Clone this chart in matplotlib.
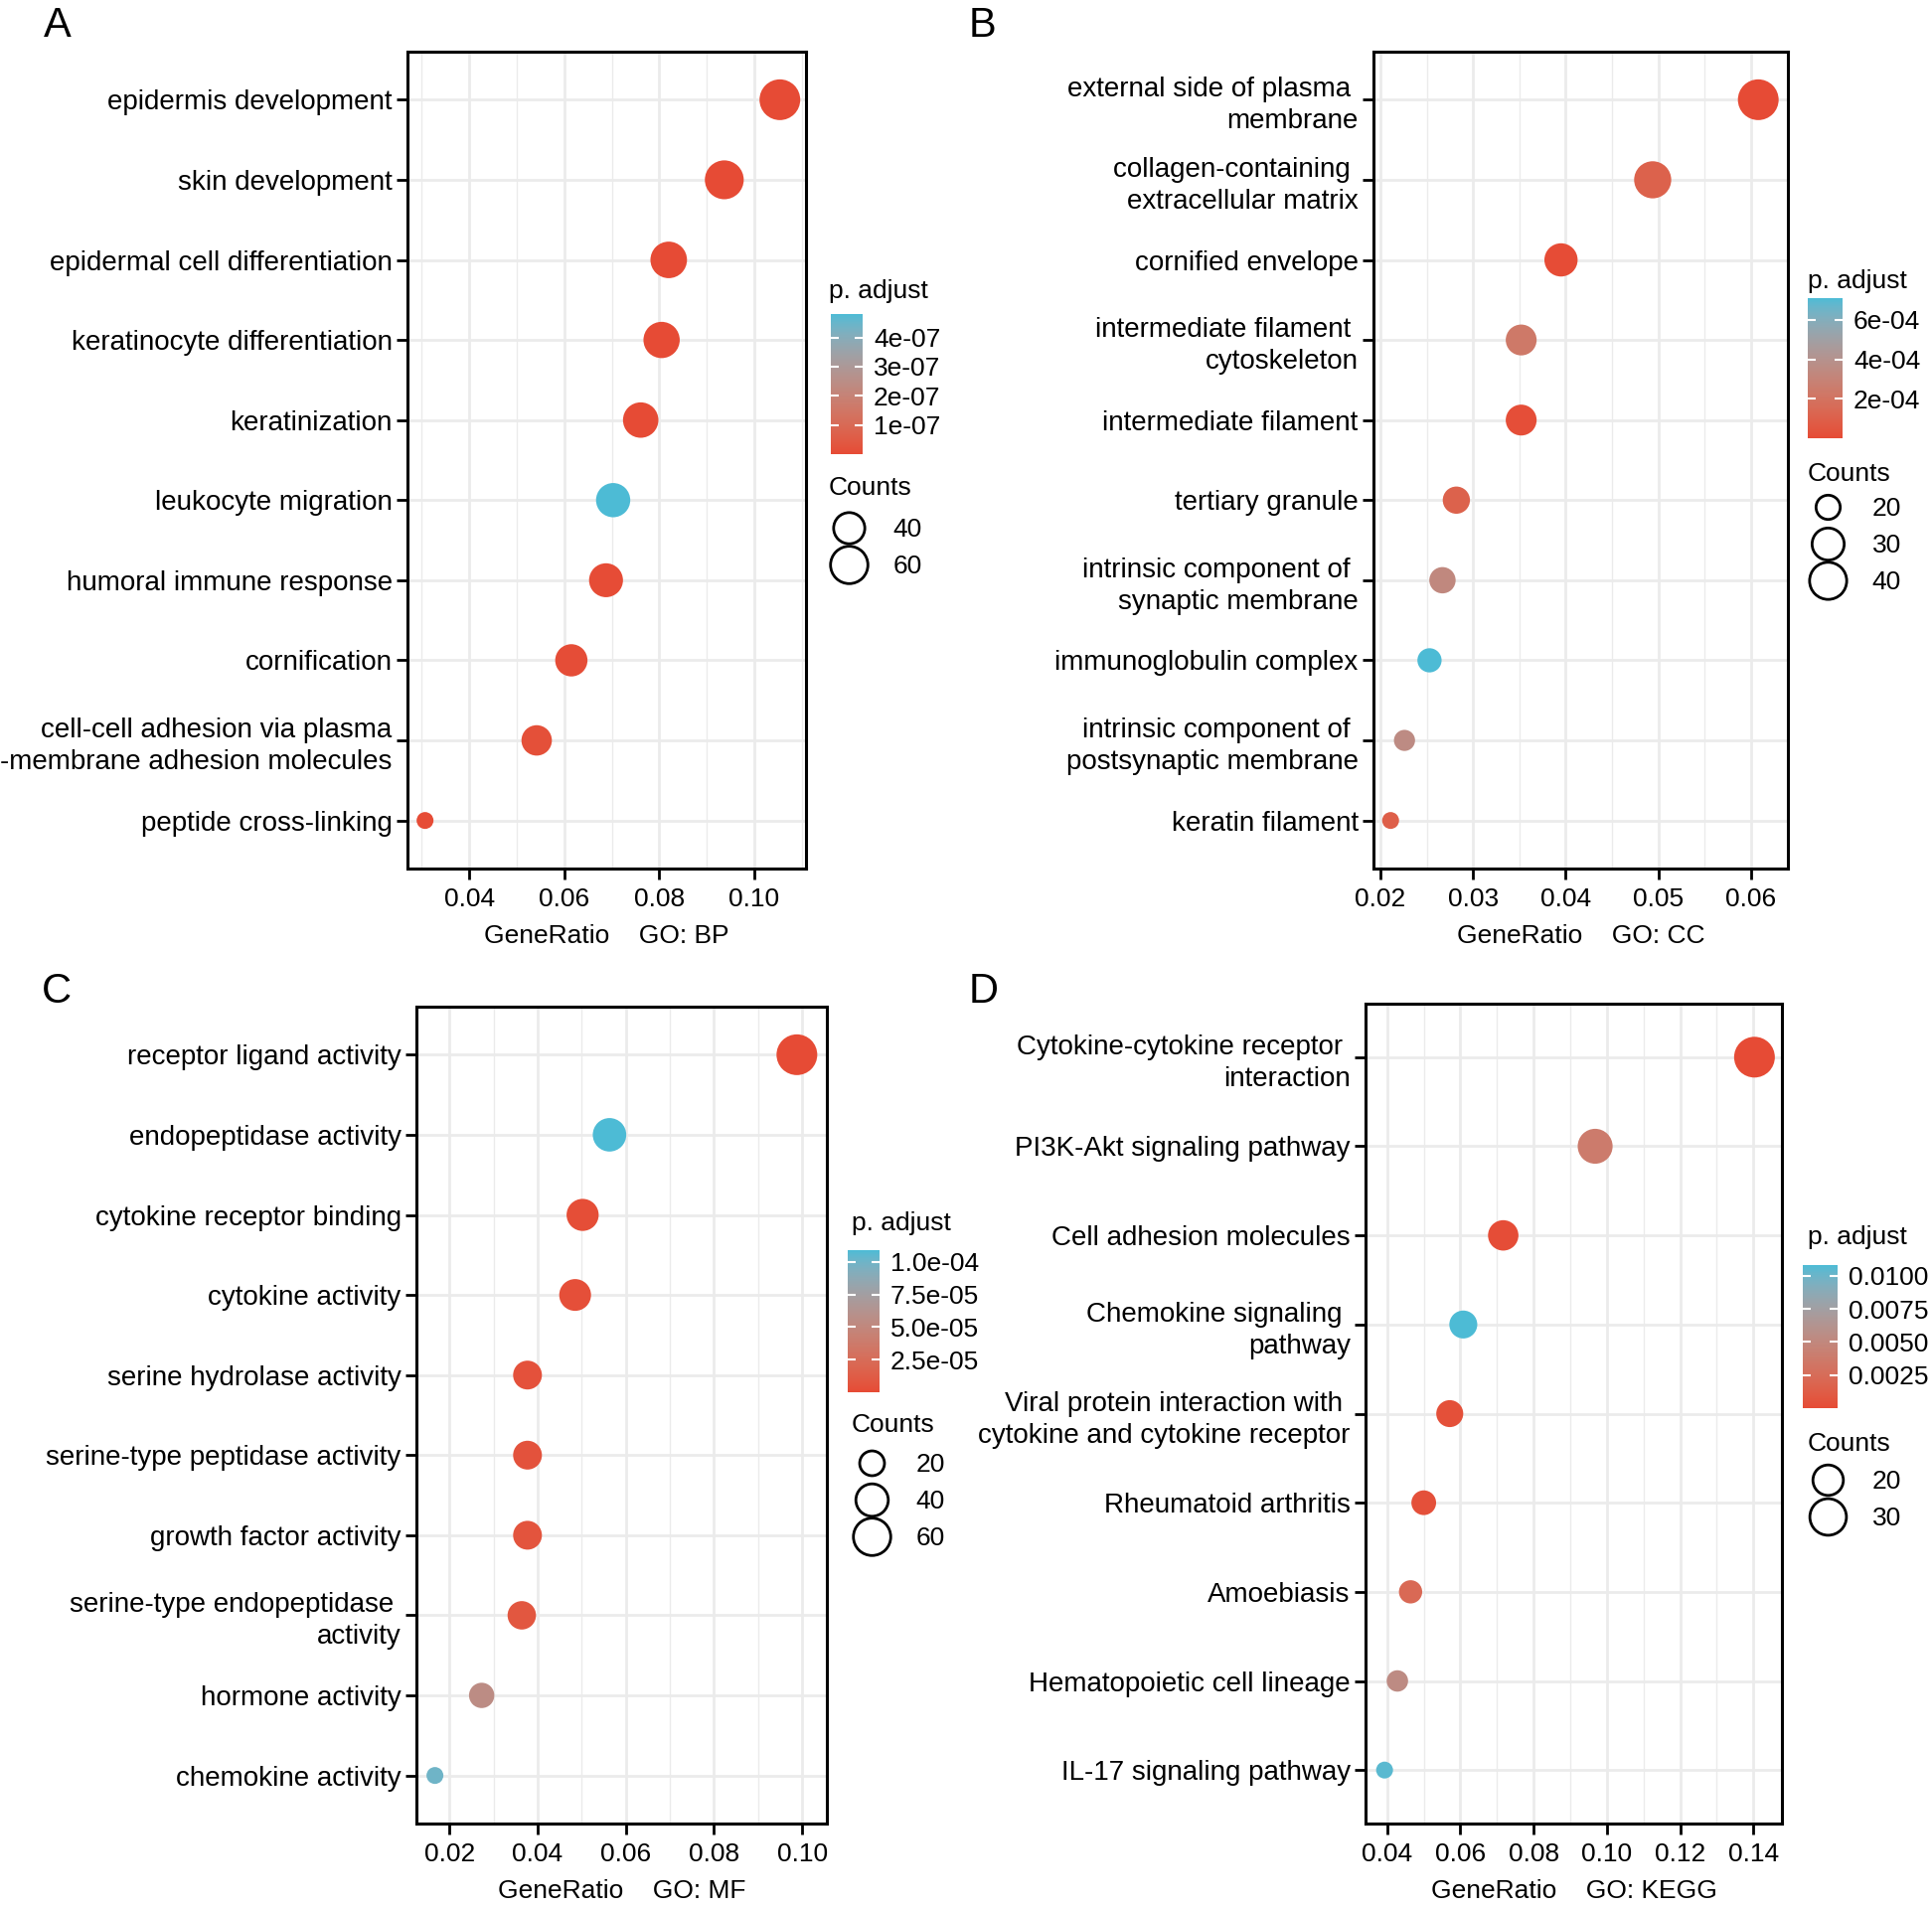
import numpy as np
import matplotlib
matplotlib.use("Agg")
import matplotlib.pyplot as plt
from matplotlib.colors import ListedColormap, Normalize
from matplotlib.cm import ScalarMappable
from matplotlib.lines import Line2D
from matplotlib.ticker import AutoMinorLocator

plt.rcParams['font.family'] = ['Liberation Sans', 'DejaVu Sans']

# ---- data ----
bp_terms = ["epidermis development", "skin development", "epidermal cell differentiation",
            "keratinocyte differentiation", "keratinization", "leukocyte migration",
            "humoral immune response", "cornification",
            "cell-cell adhesion via plasma\n-membrane adhesion molecules", "peptide cross-linking"]
bp_ratio = [0.1054, 0.0937, 0.0820, 0.0805, 0.0761, 0.0703, 0.0688, 0.0615, 0.0542, 0.0307]
bp_count = [74, 66, 57, 56, 53, 49, 48, 43, 38, 21]
bp_padj = [3.1e-12, 5.6e-11, 2.3e-10, 4.0e-10, 8.7e-10, 4.8e-7, 1.9e-9, 6.2e-9, 1.4e-8, 2.6e-9]

cc_terms = ["external side of plasma \nmembrane", "collagen-containing \nextracellular matrix",
            "cornified envelope", "intermediate filament \ncytoskeleton", "intermediate filament",
            "tertiary granule", "intrinsic component of \nsynaptic membrane", "immunoglobulin complex",
            "intrinsic component of \npostsynaptic membrane", "keratin filament"]
cc_ratio = [0.0608, 0.0494, 0.0395, 0.0352, 0.0352, 0.0282, 0.0267, 0.0253, 0.0226, 0.0211]
cc_count = [49, 40, 32, 28, 28, 23, 22, 20, 18, 17]
cc_padj = [1.0e-6, 1.07e-4, 4.0e-6, 2.35e-4, 1.5e-5, 1.07e-4, 3.35e-4, 7.1e-4, 3.55e-4, 9.2e-5]

mf_terms = ["receptor ligand activity", "endopeptidase activity", "cytokine receptor binding",
            "cytokine activity", "serine hydrolase activity", "serine-type peptidase activity",
            "growth factor activity", "serine-type endopeptidase \nactivity", "hormone activity",
            "chemokine activity"]
mf_ratio = [0.0988, 0.0563, 0.0502, 0.0485, 0.0377, 0.0377, 0.0377, 0.0364, 0.0273, 0.0167]
mf_count = [77, 44, 39, 38, 29, 29, 29, 28, 21, 13]
mf_padj = [1.0e-7, 1.09e-4, 2.0e-6, 3.0e-6, 4.0e-6, 5.0e-6, 6.0e-6, 8.0e-6, 5.5e-5, 1.0e-4]

kegg_terms = ["Cytokine-cytokine receptor \ninteraction", "PI3K-Akt signaling pathway",
              "Cell adhesion molecules", "Chemokine signaling \npathway",
              "Viral protein interaction with \ncytokine and cytokine receptor",
              "Rheumatoid arthritis", "Amoebiasis", "Hematopoietic cell lineage",
              "IL-17 signaling pathway"]
kegg_ratio = [0.1403, 0.0968, 0.0717, 0.0608, 0.0571, 0.0500, 0.0464, 0.0428, 0.0393]
kegg_count = [39, 27, 20, 17, 16, 14, 13, 12, 11]
kegg_padj = [1.0e-6, 3.8e-3, 1.5e-4, 1.08e-2, 3.0e-4, 3.5e-4, 2.2e-3, 5.4e-3, 1.05e-2]


# ---- colour scale: ggplot-like gradient interpolated in Lab ----
M_RGB2XYZ = np.array([[0.4124, 0.3576, 0.1805], [0.2126, 0.7152, 0.0722], [0.0193, 0.1192, 0.9505]])
WHITE = np.array([0.95047, 1.0, 1.08883])


def srgb_to_lab(rgb):
    c = np.asarray(rgb, float) / 255.0
    lin = np.where(c <= 0.04045, c / 12.92, ((c + 0.055) / 1.055) ** 2.4)
    xyz = M_RGB2XYZ @ lin / WHITE
    f = np.where(xyz > 0.008856, np.cbrt(xyz), 7.787 * xyz + 16 / 116)
    return np.array([116 * f[1] - 16, 500 * (f[0] - f[1]), 200 * (f[1] - f[2])])


def lab_to_srgb(lab):
    L, a, b = lab
    fy = (L + 16) / 116
    f = np.array([fy + a / 500, fy, fy - b / 200])
    xyz = np.where(f ** 3 > 0.008856, f ** 3, (f - 16 / 116) / 7.787) * WHITE
    lin = np.linalg.inv(M_RGB2XYZ) @ xyz
    c = np.where(lin <= 0.0031308, 12.92 * lin, 1.055 * np.clip(lin, 0, None) ** (1 / 2.4) - 0.055)
    return np.clip(c, 0, 1)


low = srgb_to_lab([230, 75, 53])
high = srgb_to_lab([77, 187, 213])
cmap = ListedColormap([lab_to_srgb(low + (high - low) * t) for t in np.linspace(0, 1, 256)])

W, H = 1944, 1921
fig = plt.figure(figsize=(W / 100, H / 100), dpi=100)

DMIN, DMAX = 17 * 0.72, 41 * 0.72  # point diameters


def diam(c, cmin, cmax):
    return DMIN + (DMAX - DMIN) * np.sqrt((np.asarray(c, float) - cmin) / (cmax - cmin))


def fr(x0, y0, x1, y1):
    return [x0 / W, 1 - y1 / H, (x1 - x0) / W, (y1 - y0) / H]


def panel(rect, terms, ratio, count, padj, xlim, xticks, gotag, letter, letter_xy,
          cbar_rect, cticks, clabels, title_xy, counts_xy, legend_y, breaks):
    ax = fig.add_axes(fr(*rect))
    n = len(terms)
    y = np.arange(n)[::-1]
    cmin, cmax = min(count), max(count)
    norm = Normalize(min(padj), max(padj))
    ax.scatter(ratio, y, s=diam(count, cmin, cmax) ** 2, c=padj, cmap=cmap, norm=norm,
               edgecolors='none', zorder=3)
    ax.set_xlim(*xlim)
    ax.set_ylim(-0.6, n - 0.4)
    ax.set_xticks(xticks)
    ax.set_xticklabels(["%.2f" % v for v in xticks])
    ax.xaxis.set_minor_locator(AutoMinorLocator(2))
    ax.set_yticks(y)
    ax.set_yticklabels(terms, fontsize=20, linespacing=1.3)
    ax.set_axisbelow(True)
    ax.grid(True, which='major', color='#EBEBEB', lw=2)
    ax.grid(True, which='minor', axis='x', color='#EBEBEB', lw=1)
    ax.tick_params(which='major', length=8, width=2, pad=3, labelsize=19)
    ax.tick_params(axis='x', pad=6)
    ax.tick_params(axis='y', labelsize=20)
    ax.tick_params(which='minor', length=0)
    for sp in ax.spines.values():
        sp.set_linewidth(2.2)
    ax.set_xlabel("GeneRatio    " + gotag, fontsize=19, labelpad=9)

    fig.text(letter_xy[0] / W, 1 - letter_xy[1] / H, letter, fontsize=30, va='top', ha='left')

    # colour legend
    cax = fig.add_axes(fr(*cbar_rect))
    cb = fig.colorbar(ScalarMappable(norm=norm, cmap=cmap), cax=cax)
    cb.outline.set_visible(False)
    cb.set_ticks(cticks)
    cb.set_ticklabels(clabels)
    cax.tick_params(direction='in', color='white', length=6, width=1.5, left=True, right=True,
                    labelsize=19, pad=8)
    fig.text(title_xy[0] / W, 1 - title_xy[1] / H, "p. adjust", fontsize=19, va='center', ha='left')

    # size legend
    fig.text(counts_xy[0] / W, 1 - counts_xy[1] / H, "Counts", fontsize=19, va='center', ha='left')
    handles = [Line2D([0], [0], marker='o', ls='none', markersize=float(diam(b, cmin, cmax)),
                      markerfacecolor='none', markeredgecolor='black', markeredgewidth=2)
               for b in breaks]
    ax.legend(handles, [str(b) for b in breaks], loc='upper left',
              bbox_to_anchor=(counts_xy[0] / W, 1 - legend_y / H), bbox_transform=fig.transFigure,
              frameon=False, fontsize=19, handletextpad=0.95, labelspacing=0.5,
              borderpad=0, borderaxespad=0, handlelength=1.5)
    return ax


panel((410, 52, 811, 874), bp_terms, bp_ratio, bp_count, bp_padj, (0.0270, 0.1109),
      [0.04, 0.06, 0.08, 0.10], "GO: BP", "A", (44, 6),
      (836, 316, 868, 457), [1e-7, 2e-7, 3e-7, 4e-7], ["1e-07", "2e-07", "3e-07", "4e-07"],
      (834, 293), (834, 491), 521, [40, 60])

panel((1382, 52, 1799, 874), cc_terms, cc_ratio, cc_count, cc_padj, (0.01925, 0.0640),
      [0.02, 0.03, 0.04, 0.05, 0.06], "GO: CC", "B", (975, 6),
      (1819, 300, 1854, 441), [2e-4, 4e-4, 6e-4], ["2e-04", "4e-04", "6e-04"],
      (1819, 283), (1819, 477), 500, [20, 30, 40])

panel((419, 1013, 832, 1835), mf_terms, mf_ratio, mf_count, mf_padj, (0.0125, 0.1056),
      [0.02, 0.04, 0.06, 0.08, 0.10], "GO: MF", "C", (42, 978),
      (853, 1258, 885, 1401), [2.5e-5, 5.0e-5, 7.5e-5, 1.0e-4],
      ["2.5e-05", "5.0e-05", "7.5e-05", "1.0e-04"],
      (857, 1231), (857, 1434), 1462, [20, 40, 60])

panel((1374, 1010, 1793, 1835), kegg_terms, kegg_ratio, kegg_count, kegg_padj, (0.0341, 0.1478),
      [0.04, 0.06, 0.08, 0.10, 0.12, 0.14], "GO: KEGG", "D", (975, 978),
      (1814, 1273, 1849, 1417), [0.0025, 0.0050, 0.0075, 0.0100],
      ["0.0025", "0.0050", "0.0075", "0.0100"],
      (1819, 1245), (1819, 1453), 1479, [20, 30])

fig.savefig("out.png", dpi=100)
